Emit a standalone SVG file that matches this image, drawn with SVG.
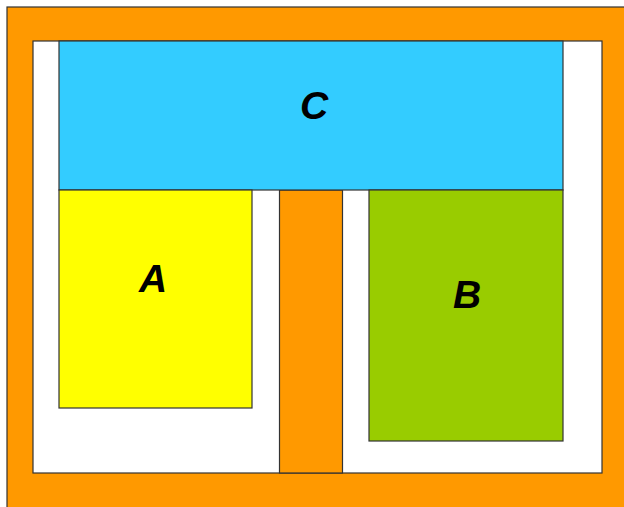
<svg xmlns="http://www.w3.org/2000/svg" width="624" height="507" viewBox="0 0 624 507">
<style>
.s{stroke:#333;stroke-width:1.2}
.lbl{font-family:"Liberation Sans",Arial,sans-serif;font-weight:bold;font-style:italic;font-size:39px;fill:#000;text-anchor:middle}
</style>
<rect width="624" height="507" fill="#fff"/>
<g id="frame">
<rect class="s" x="7" y="7" width="622" height="505" fill="#FF9900"/>
<rect class="s" x="33" y="41" width="569" height="432" fill="#fff"/>
</g>
<g id="pillar">
<rect class="s" x="279.5" y="190" width="63" height="283" fill="#FF9900"/>
</g>
<g id="C">
<rect class="s" x="59" y="41" width="504" height="149" fill="#33CCFF"/>
<text class="lbl" x="314" y="119">C</text>
</g>
<g id="A">
<rect class="s" x="59" y="190" width="193" height="218" fill="#FFFF00"/>
<text class="lbl" x="153" y="292">A</text>
</g>
<g id="B">
<rect class="s" x="369" y="190" width="194" height="251" fill="#99CC00"/>
<text class="lbl" x="467" y="308">B</text>
</g>
<g id="connectors"/>
</svg>
